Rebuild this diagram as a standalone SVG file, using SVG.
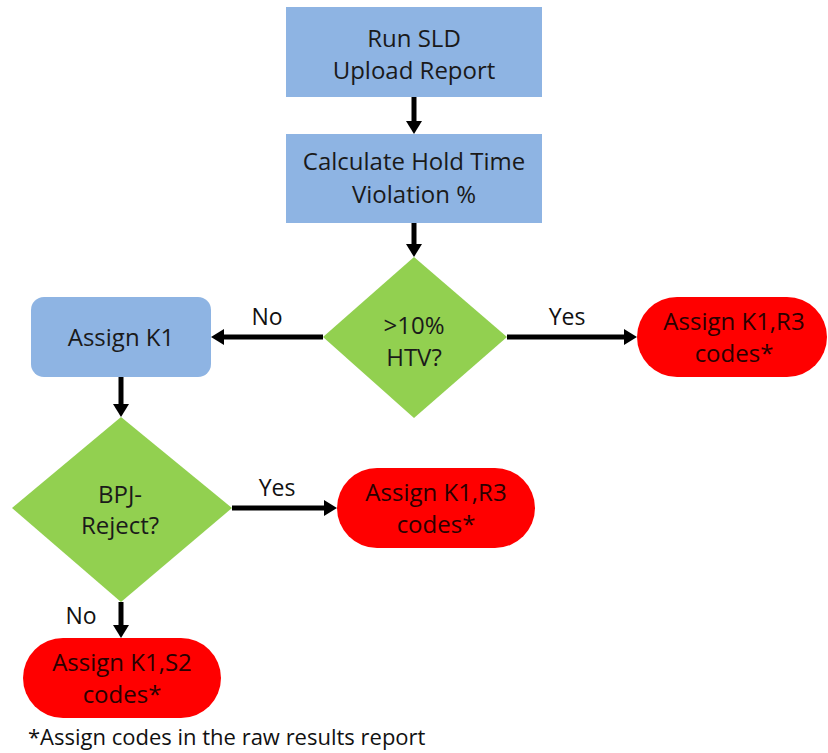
<svg xmlns="http://www.w3.org/2000/svg" width="828" height="753" viewBox="0 0 828 753">
<defs>
<style>
.blue{fill:#8EB4E3;}
.green{fill:#92D050;}
.red{fill:#FF0000;}
.t{font-family:"Open Sans","Liberation Sans",sans-serif;font-size:24px;fill:#1a1a1a;text-anchor:middle;}
.rt{font-family:"Open Sans","Liberation Sans",sans-serif;font-size:24px;fill:#2a0000;text-anchor:middle;}
.lbl{font-family:"Open Sans","Liberation Sans",sans-serif;font-size:23px;fill:#111;text-anchor:middle;}
.note{font-family:"Open Sans","Liberation Sans",sans-serif;font-size:22px;fill:#111;}
.c{stroke:#000;stroke-width:5;fill:none;marker-end:url(#ah);}
</style>
<marker id="ah" markerUnits="userSpaceOnUse" markerWidth="14" markerHeight="16" refX="0" refY="8" orient="auto">
<path d="M0,0 L13,8 L0,16 z" fill="#000"/>
</marker>
</defs>
<rect width="828" height="753" fill="#fff"/>
<g id="connectors">
<line class="c" x1="414" y1="97" x2="414" y2="121"/>
<line class="c" x1="414" y1="223" x2="414" y2="244"/>
<line class="c" x1="323" y1="337" x2="224" y2="337"/>
<line class="c" x1="507" y1="337" x2="624" y2="337"/>
<line class="c" x1="121" y1="377" x2="121" y2="404"/>
<line class="c" x1="232" y1="508" x2="324" y2="508"/>
<line class="c" x1="121" y1="602" x2="121" y2="625"/>
<text class="lbl" x="267" y="325">No</text>
<text class="lbl" x="567" y="325">Yes</text>
<text class="lbl" x="277" y="496">Yes</text>
<text class="lbl" x="81" y="624">No</text>
</g>
<g id="run-sld">
<rect class="blue" x="286" y="7" width="256" height="90"/>
<text class="t" x="414" y="47">Run SLD</text>
<text class="t" x="414" y="79">Upload Report</text>
</g>
<g id="calc-htv">
<rect class="blue" x="286" y="134" width="256" height="89"/>
<text class="t" x="414" y="170">Calculate Hold Time</text>
<text class="t" x="414" y="203">Violation %</text>
</g>
<g id="htv-decision">
<polygon class="green" points="414,257 507,337 414,418 323,337"/>
<text class="t" x="414" y="334">&gt;10%</text>
<text class="t" x="414" y="366">HTV?</text>
</g>
<g id="assign-k1">
<rect class="blue" x="31" y="297" width="180" height="80" rx="13"/>
<text class="t" x="121" y="346">Assign K1</text>
</g>
<g id="assign-k1-r3-top">
<rect class="red" x="637" y="297" width="190" height="80" rx="40"/>
<text class="rt" x="734" y="330">Assign K1,R3</text>
<text class="rt" x="734" y="362">codes*</text>
</g>
<g id="bpj-decision">
<polygon class="green" points="121,417 232,508 121,602 12,508"/>
<text class="t" x="120" y="503">BPJ-</text>
<text class="t" x="120" y="534">Reject?</text>
</g>
<g id="assign-k1-r3">
<rect class="red" x="337" y="468" width="198" height="80" rx="40"/>
<text class="rt" x="436" y="501">Assign K1,R3</text>
<text class="rt" x="436" y="533">codes*</text>
</g>
<g id="assign-k1-s2">
<rect class="red" x="23" y="638" width="198" height="80" rx="40"/>
<text class="rt" x="122" y="671">Assign K1,S2</text>
<text class="rt" x="122" y="703">codes*</text>
</g>
<text class="note" x="28" y="745">*Assign codes in the raw results report</text>
</svg>
